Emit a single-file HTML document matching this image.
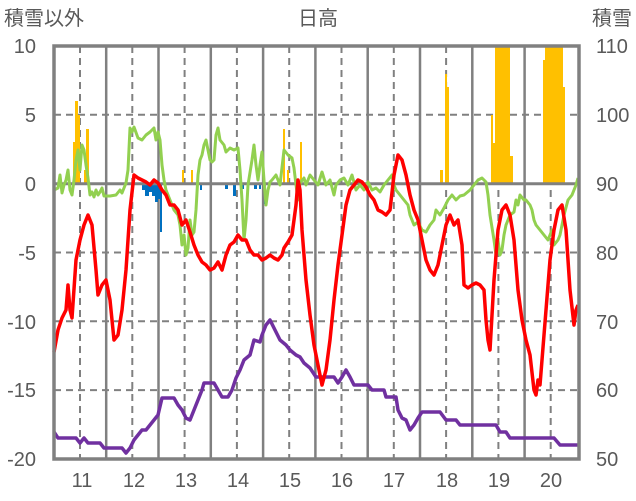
<!DOCTYPE html>
<html><head><meta charset="utf-8"><style>
html,body{margin:0;padding:0;background:#fff;}
svg{display:block;font-family:"Liberation Sans","Noto Sans CJK JP",sans-serif;}
</style></head><body>
<svg width="636" height="501" viewBox="0 0 636 501" xmlns="http://www.w3.org/2000/svg">
<rect width="636" height="501" fill="#fff"/>
<!-- grid -->
<g stroke="#808080" stroke-width="2" stroke-dasharray="7,5">
<line x1="54" y1="114.8" x2="579" y2="114.8"/>
<line x1="54" y1="252.5" x2="579" y2="252.5"/>
<line x1="54" y1="321.3" x2="579" y2="321.3"/>
<line x1="54" y1="390.1" x2="579" y2="390.1"/>
<line x1="80" y1="46" x2="80" y2="459"/><line x1="132.3" y1="46" x2="132.3" y2="459"/><line x1="184.6" y1="46" x2="184.6" y2="459"/><line x1="236.9" y1="46" x2="236.9" y2="459"/><line x1="289.2" y1="46" x2="289.2" y2="459"/><line x1="341.5" y1="46" x2="341.5" y2="459"/><line x1="393.8" y1="46" x2="393.8" y2="459"/><line x1="446.1" y1="46" x2="446.1" y2="459"/><line x1="498.4" y1="46" x2="498.4" y2="459"/><line x1="550.7" y1="46" x2="550.7" y2="459"/>
</g>
<g stroke="#808080" stroke-width="2.5">
<line x1="106.2" y1="46" x2="106.2" y2="459"/><line x1="158.5" y1="46" x2="158.5" y2="459"/><line x1="210.8" y1="46" x2="210.8" y2="459"/><line x1="263.1" y1="46" x2="263.1" y2="459"/><line x1="315.4" y1="46" x2="315.4" y2="459"/><line x1="367.7" y1="46" x2="367.7" y2="459"/><line x1="420" y1="46" x2="420" y2="459"/><line x1="472.3" y1="46" x2="472.3" y2="459"/><line x1="524.6" y1="46" x2="524.6" y2="459"/>
</g>
<!-- bars -->
<g fill="#FFC000">
<rect x="73" y="142" width="2" height="42"/><rect x="75" y="101" width="3" height="83"/><rect x="78" y="115" width="2" height="69"/>
<rect x="84" y="170" width="2" height="14"/><rect x="86" y="129" width="3" height="55"/>
<rect x="182" y="170" width="2" height="14"/><rect x="191" y="170" width="2" height="14"/>
<rect x="283" y="129" width="2" height="55"/><rect x="287" y="170" width="2" height="14"/><rect x="300" y="142" width="2" height="42"/>
<rect x="440" y="170" width="3" height="14"/><rect x="445" y="74" width="2" height="110"/><rect x="447" y="87" width="2" height="97"/>
<rect x="491" y="115" width="2" height="69"/><rect x="493" y="143" width="2" height="41"/><rect x="495" y="46" width="15" height="138"/><rect x="510" y="156" width="3" height="28"/>
<rect x="543" y="60" width="2" height="124"/><rect x="545" y="46" width="18" height="138"/><rect x="563" y="87" width="2" height="97"/>
</g>
<g fill="#0070C0">
<rect x="142" y="184" width="3" height="6"/><rect x="145" y="184" width="4" height="12"/><rect x="149" y="184" width="3" height="8"/><rect x="152" y="184" width="3" height="12"/><rect x="155" y="184" width="3" height="18"/><rect x="158" y="184" width="2" height="15"/><rect x="160" y="184" width="2" height="48"/>
<rect x="196" y="184" width="2" height="6"/><rect x="200" y="184" width="2" height="6"/>
<rect x="225" y="184" width="3" height="5"/><rect x="233" y="184" width="3" height="12"/><rect x="241" y="184" width="3" height="5"/><rect x="254" y="184" width="3" height="5"/><rect x="259" y="184" width="2" height="5"/><rect x="264" y="184" width="2" height="20"/>
</g>
<!-- zero line -->
<line x1="54" y1="183.7" x2="579" y2="183.7" stroke="#808080" stroke-width="3"/>
<!-- series -->
<g fill="none" stroke-width="3.5" stroke-linejoin="round">
<polyline stroke="#92D050" stroke-width="3" points="54,190 58,188 60,175 62,193 64,185 66,180 68,170 70,190 72,195 74,180 76,160 78,150 80,170 82,145 84,150 86,165 88,178 90,195 92,192 94,197 96,190 98,195 100,192 102,188 104,196 110,196 116,195 120,190 122,193 126,183 128,170 130,128 132,132 134,127 138,138 142,140 146,135 150,132 154,128 156,140 158,132 160,140 162,165 164,180 166,190 170,200 174,210 178,215 180,225 182,245 184,235 186,255 188,248 190,220 192,235 194,232 196,210 198,175 200,160 202,155 204,145 206,140 208,150 210,160 212,162 214,160 216,135 218,128 220,140 224,145 226,152 230,148 234,150 238,148 240,170 242,200 244,240 246,220 248,185 252,160 254,145 256,165 258,180 260,165 262,152 264,180 266,205 268,190 270,182 272,180 276,175 280,185 284,150 288,155 292,158 294,168 296,185 298,200 300,183 304,178 306,185 310,175 314,180 318,185 322,172 326,185 330,180 334,195 336,185 340,180 344,178 348,185 352,175 356,190 360,185 364,190 368,182 372,190 376,188 380,192 384,185 388,180 392,175 394,185 396,190 400,195 404,200 408,205 410,215 414,225 418,222 422,230 426,232 430,225 434,220 436,210 440,215 444,208 448,200 452,195 456,200 460,196 464,195 470,190 474,185 478,180 482,178 486,182 488,195 490,215 494,240 496,255 498,240 500,255 502,250 504,235 506,225 510,215 514,212 516,200 518,205 520,195 524,200 526,200 530,205 532,210 534,220 536,225 540,230 544,235 548,240 552,230 554,245 558,240 560,235 564,215 568,200 572,195 576,185 578,178"/>
<polyline stroke="#7030A0" points="54,432 58,438 76,438 80,443 84,438 88,443 100,443 104,448 122,448 126,453 130,448 134,440 138,435 142,430 146,430 150,425 154,420 158,415 162,398 174,398 178,405 182,410 186,418 190,420 194,410 198,400 202,390 204,383 214,383 218,390 222,397 228,397 232,390 236,378 240,370 244,360 250,355 254,340 260,342 262,335 266,325 270,320 274,328 280,340 286,345 290,350 296,355 300,357 304,363 310,368 316,377 334,377 338,383 342,377 346,370 350,377 354,385 368,385 372,390 384,390 386,397 396,397 398,410 402,418 406,420 410,430 414,425 418,418 422,412 440,412 446,420 456,420 460,425 496,425 500,432 506,432 510,438 554,438 560,445 578,445"/>
<polyline stroke="#FF0000" points="54,352 58,330 62,318 66,310 68,285 70,310 72,318 76,260 80,240 84,225 88,215 92,225 96,270 98,295 102,285 106,280 110,300 114,340 118,335 122,310 126,270 130,210 134,175 138,178 142,180 146,182 150,185 154,180 158,183 162,190 166,195 170,205 174,205 178,210 182,225 186,220 190,232 194,245 198,255 202,262 206,265 210,270 214,268 218,262 222,270 226,255 230,245 234,242 238,235 242,240 246,240 250,250 254,255 258,255 262,260 266,258 270,255 274,258 278,260 282,255 284,248 288,242 292,235 296,205 298,180 300,190 302,230 306,280 310,315 314,345 318,365 322,385 326,370 330,340 334,300 338,265 342,235 346,205 350,190 354,185 358,180 362,182 366,187 370,195 374,200 378,210 382,212 386,215 390,210 394,175 398,155 402,160 406,175 410,195 414,210 418,220 422,240 426,260 430,270 434,275 438,265 442,245 446,225 450,215 454,225 458,220 462,245 464,285 468,288 472,285 476,283 480,285 484,290 486,320 488,340 490,350 494,280 498,230 502,210 506,205 510,215 514,240 518,290 522,320 526,340 530,355 534,390 536,395 538,380 540,385 542,360 546,310 550,260 554,230 558,210 562,205 566,230 570,290 574,325 576,310 578,305"/>
</g>
<!-- frame -->
<rect x="54" y="46" width="525" height="413" fill="none" stroke="#808080" stroke-width="3.5"/>
<!-- labels -->
<g fill="#595959" font-size="20">
<text x="4" y="25">積雪以外</text>
<text x="318" y="25" text-anchor="middle">日高</text>
<text x="632" y="25" text-anchor="end">積雪</text>
<g text-anchor="end">
<text x="36" y="53">10</text><text x="36" y="122">5</text><text x="36" y="191">0</text><text x="36" y="260">-5</text><text x="36" y="329">-10</text><text x="36" y="397">-15</text><text x="36" y="466">-20</text>
</g>
<g text-anchor="start">
<text x="596" y="53">110</text><text x="596" y="122">100</text><text x="596" y="191">90</text><text x="596" y="260">80</text><text x="596" y="329">70</text><text x="596" y="397">60</text><text x="596" y="466">50</text>
</g>
<g text-anchor="middle">
<text x="82" y="487">11</text><text x="134" y="487">12</text><text x="186" y="487">13</text><text x="238" y="487">14</text><text x="290" y="487">15</text><text x="342" y="487">16</text><text x="394" y="487">17</text><text x="447" y="487">18</text><text x="499" y="487">19</text><text x="551" y="487">20</text>
</g>
</g>
</svg>
</body></html>
